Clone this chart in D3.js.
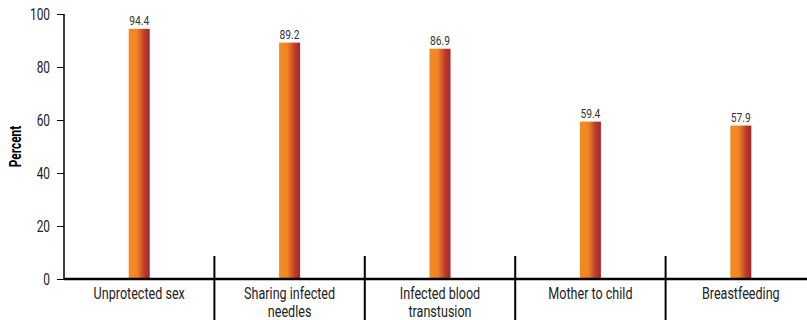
<!DOCTYPE html>
<html><head><meta charset="utf-8">
<script src="https://cdn.jsdelivr.net/npm/d3@7"></script>
<style>
body{margin:0;background:#fff;}
text{font-family:Roboto,"Liberation Sans",sans-serif;}
</style></head>
<body><svg id="c" width="807" height="320"></svg>
<script>
const categories = [["Unprotected sex"],["Sharing infected","needles"],["Infected blood","transtusion"],["Mother to child"],["Breastfeeding"]];
const values = [94.4, 89.2, 86.9, 59.4, 57.9];
const yTicks = [0,20,40,60,80,100];

const SX = 0.74; // condensed look
const svg = d3.select("#c");
const x = d3.scaleBand().domain(d3.range(categories.length)).range([64, 816]).padding(0);
const y = d3.scaleLinear().domain([0,100]).range([279, 14]);

const defs = svg.append("defs");
const g = defs.append("linearGradient").attr("id","bg").attr("x1","0%").attr("x2","100%").attr("y1","0%").attr("y2","0%");
g.append("stop").attr("offset","0%").attr("stop-color","#f58a22");
g.append("stop").attr("offset","40%").attr("stop-color","#ef8425");
g.append("stop").attr("offset","75%").attr("stop-color","#bd3b2c");
g.append("stop").attr("offset","100%").attr("stop-color","#a3262d");

const bw = 21;
svg.selectAll("rect.bar").data(values).join("rect").attr("class","bar")
  .attr("x",(d,i)=>x(i)+x.bandwidth()/2-bw/2)
  .attr("width",bw)
  .attr("y",d=>y(d))
  .attr("height",d=>y(0)-y(d))
  .attr("fill","url(#bg)");

svg.selectAll("text.val").data(values).join("text").attr("class","val")
  .attr("transform",(d,i)=>`translate(${x(i)+x.bandwidth()/2},${y(d)-4}) scale(0.82,1)`)
  .attr("text-anchor","middle")
  .attr("font-size",12.5).attr("fill","#333")
  .text(d=>d.toFixed(1));

// y axis
const ya = svg.append("g").attr("transform","translate(64,0)")
  .call(d3.axisLeft(y).tickValues(yTicks).tickSize(7).tickPadding(4));
ya.select(".domain").attr("stroke","#000").attr("stroke-width",1.5).attr("d","M0,14V279");
ya.selectAll(".tick line").attr("stroke","#000").attr("stroke-width",1);
ya.selectAll(".tick text").attr("font-size",16.5).attr("fill","#222")
  .style("font-family",'Roboto,sans-serif')
  .attr("x",-14/0.72).attr("transform","scale(0.72,1)");

// baseline
svg.append("line").attr("x1",64).attr("x2",807).attr("y1",y(0)).attr("y2",y(0)).attr("stroke","#000").attr("stroke-width",2.5);

// separators
svg.selectAll("line.sep").data(d3.range(1,categories.length)).join("line").attr("class","sep")
  .attr("x1",i=>x(i)).attr("x2",i=>x(i)).attr("y1",256).attr("y2",320)
  .attr("stroke","#000").attr("stroke-width",2);

// category labels
categories.forEach((lines,i)=>{
  lines.forEach((l,j)=>{
    svg.append("text").attr("class","cat")
      .attr("transform",`translate(${x(i)+x.bandwidth()/2},${299+j*18}) scale(${SX},1)`)
      .attr("text-anchor","middle").attr("font-size",17).attr("fill","#222")
      .text(l);
  });
});

// y label
svg.append("text").attr("transform","translate(20.5,146.5) rotate(-90) scale(0.72,1)")
  .attr("text-anchor","middle").attr("font-size",16.5).attr("font-weight","bold").attr("fill","#000")
  .text("Percent");
</script></body></html>
